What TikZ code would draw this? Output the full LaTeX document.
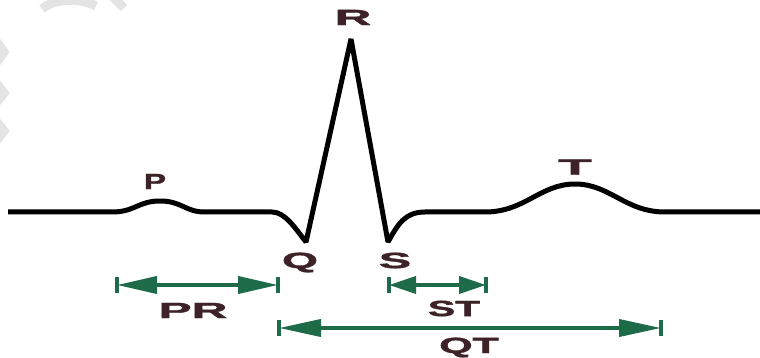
\documentclass[tikz,border=0pt]{standalone}
\usepackage{fontspec}
\setmainfont{Liberation Sans}
\newfontfamily\lblfont[BoldFeatures={FakeBold=1.6}]{Liberation Sans}
\usetikzlibrary{arrows.meta}
\definecolor{ecggreen}{HTML}{1D6B48}
\definecolor{lblcol}{HTML}{3D2228}
\definecolor{wmark}{HTML}{E4E4E4}
\tikzset{
  lbl/.style={text=lblcol, font=\fontsize{22}{24}\lblfont\bfseries, inner sep=0pt, xscale=2},
  ecg/.style={line width=5pt, black, line join=bevel},
  interval/.style={line width=3.8pt, ecggreen, {Triangle[length=#1,width=17pt]}-{Triangle[length=#1,width=17pt]}},
  endbar/.style={line width=4.5pt, ecggreen},
  wm/.style={line width=9pt, wmark}
}
\begin{document}
\begin{tikzpicture}[x=1pt,y=-1pt]
\useasboundingbox (0,0) rectangle (760,358);
% faint watermark fragments
\begin{scope}
\clip (0,0) rectangle (760,358);
\draw[wm] (-6,38) -- (4,52) -- (-6,66);
\draw[wm] (-6,80) -- (4,93) -- (-6,106);
\draw[wm] (-6,118) -- (4,131) -- (-6,144);
\draw[wm] (42,9) .. controls (55,-2) and (80,-2) .. (96,6);
\draw[wm] (112,-4) -- (124,8);
\end{scope}
% ECG trace
\coordinate (start) at (8,212);
\coordinate (q) at (306,242);
\coordinate (r) at (351,39);
\coordinate (s) at (388,242);
\coordinate (finish) at (760,212);
\draw[ecg] (start) -- (112,212)
  .. controls (135,212) and (138,201) .. (160,201)
  .. controls (182,201) and (185,212) .. (205,212)
  -- (272,212)
  .. controls (285,212) and (295,228) .. (q)
  -- (r) -- (s)
  .. controls (398,224) and (405,212) .. (425,212)
  -- (485,212)
  .. controls (525,212) and (540,184) .. (575,184)
  .. controls (610,184) and (625,212) .. (665,212)
  -- (finish);
% wave labels
\node[lbl, xscale=1.5/2] (lP) at (155,181.5) {P};
\node[lbl, xscale=2.3/2] (lR) at (353,17.5) {R};
\node[lbl, xscale=2.5/2] (lT) at (575,167) {T};
\node[lbl, xscale=2.1/2] (lQ) at (300,262.5) {Q};
\node[lbl, xscale=2.2/2] (lS) at (395,260.5) {S};
% interval markers
\coordinate (pr1) at (117,285);
\coordinate (pr2) at (278,285);
\coordinate (st1) at (389,285);
\coordinate (st2) at (486,285);
\coordinate (qt1) at (279,328);
\coordinate (qt2) at (661,328);
\draw[interval=40pt] (pr1) -- (pr2);
\draw[interval=27pt] (st1) -- (st2);
\draw[interval=42pt] (qt1) -- (qt2);
\foreach \c in {pr1,pr2,st1,st2,qt1,qt2}
  \draw[endbar] ([yshift=-8pt]\c) -- ([yshift=8pt]\c);
\node[lbl, xscale=2.25/2] (lPR) at (193,310.5) {PR};
\node[lbl, xscale=1.85/2] (lST) at (454,308.5) {ST};
\node[lbl, xscale=1.95/2] (lQT) at (469,347.5) {QT};
\end{tikzpicture}
\end{document}
